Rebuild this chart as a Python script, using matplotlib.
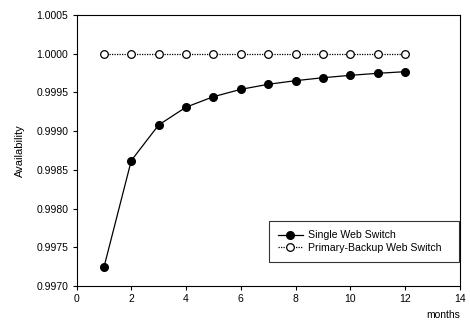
import matplotlib
matplotlib.use("Agg")
import matplotlib.pyplot as plt
from matplotlib.ticker import MultipleLocator, FormatStrFormatter

plt.rcParams['font.family'] = ['Liberation Sans', 'DejaVu Sans']

months = [1, 2, 3, 4, 5, 6, 7, 8, 9, 10, 11, 12]
single = [0.99724, 0.99862, 0.99908, 0.99931, 0.999445, 0.99954, 0.999605,
          0.999652, 0.99969, 0.999721, 0.999747, 0.999768]
backup = [1.0] * 12

fig = plt.figure(figsize=(4.7, 3.2), dpi=100)
ax = fig.add_axes([76.5/470, 1 - 286/320, (460-76.5)/470, (286-15)/320])

ax.plot(months, single, color='black', lw=0.9, marker='o', ms=5.5,
        mfc='black', mec='black', label='Single Web Switch')
ax.plot(months, backup, color='black', lw=0.9, ls=(0, (1, 1)), marker='o', ms=5.5,
        mfc='white', mec='black', mew=0.9, label='Primary-Backup Web Switch   ')

ax.set_xlim(0, 14)
ax.set_ylim(0.9970, 1.0005)
ax.xaxis.set_major_locator(MultipleLocator(2))
ax.yaxis.set_major_locator(MultipleLocator(0.0005))
ax.yaxis.set_major_formatter(FormatStrFormatter('%.4f'))
ax.tick_params(direction='out', length=3, width=0.8, labelsize=7.5, pad=3)
for s in ax.spines.values():
    s.set_linewidth(0.8)

ax.set_ylabel('Availability', fontsize=8, labelpad=8)
fig.text(460/470, 1 - 315/320, 'months', fontsize=7.5, ha='right', va='center')

leg = ax.legend(loc='lower right', bbox_to_anchor=(0.9974, 0.0886), fontsize=7.6,
                frameon=True, fancybox=False, edgecolor='black', borderaxespad=0,
                handlelength=2.3, handletextpad=0.5, borderpad=0.85, labelspacing=0.25)
leg.get_frame().set_linewidth(0.8)

fig.savefig('out.png', dpi=100)
